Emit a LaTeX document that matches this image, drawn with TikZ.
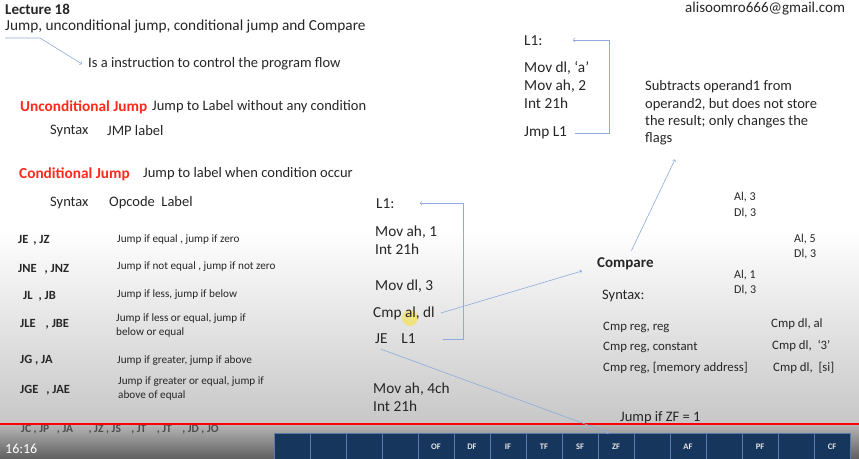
\documentclass[tikz,border=0pt]{standalone}
\usepackage{fontspec}
\setmainfont{Carlito}
\usepackage{xcolor}
\usepackage{tikz}
\usetikzlibrary{arrows,positioning,calc}
\definecolor{inkgray}{HTML}{262626}
\definecolor{headred}{HTML}{FF2A1A}
\definecolor{linkblue}{HTML}{8FAADC}
\definecolor{flagnavy}{HTML}{17365D}
\definecolor{flagedge}{HTML}{5B7BAA}

\tikzset{
  txt/.style={anchor=west, inner sep=0pt, text=inkgray, font=\fontsize{14.5}{17}\selectfont},
  boldtxt/.style={txt, font=\bfseries\fontsize{15}{17}\selectfont},
  head/.style={txt, text=headred, font=\bfseries\fontsize{15.3}{17}\selectfont},
  op/.style={txt, font=\bfseries\fontsize{12.5}{13}\selectfont},
  small/.style={txt, align=left, font=\fontsize{11.2}{14}\selectfont},
  code/.style={txt, align=left, font=\fontsize{15.3}{18.3}\selectfont},
  expl/.style={txt, align=left, font=\fontsize{14.5}{17.3}\selectfont},
  mid/.style={txt, font=\fontsize{12.8}{14}\selectfont},
  val/.style={txt, align=left, font=\fontsize{12}{16.5}\selectfont},
  link/.style={linkblue, line width=0.6pt},
  flagbox/.style={draw=flagedge, fill=flagnavy, minimum width=36pt, minimum height=28pt,
    inner sep=0pt, text=white!80!gray, font=\bfseries\fontsize{8.5}{8}\selectfont}
}

\begin{document}
\begin{tikzpicture}[x=1pt, y=-1pt]
\useasboundingbox (0,0) rectangle (859,458);
% slide background and player bar
\fill[white] (0,0) rectangle (859,230);
\shade[top color=white, bottom color=black!22] (0,230) rectangle (859,424);
\shade[top color=black!28, bottom color=black!62] (0,424) rectangle (859,458);
\node[op, text=black!70, font=\bfseries\fontsize{11.5}{13}\selectfont] (jrest) at (21,429)
  {JC , JP\ \ \ , JA\ \ \ \ \ \ , JZ , JS\ \ \ \ , JT\ \ \ \ , JT\ \ \ \ , JD , JO};
\draw[red, line width=2.5pt] (0,424) -- (859,424);
\node[txt, text=white, font=\fontsize{14}{16}\selectfont] (clock) at (5,449) {16:16};
% flag register
\foreach \lab [count=\i] in {{},{},{},{},OF,DF,IF,TF,SF,ZF,{},AF,{},PF,{},CF}
  \node[flagbox] (flag\i) at ({274+36*(\i-0.5)},447) {\lab};

% header
\node[boldtxt] (lect) at (5,9) {Lecture 18};
\node[txt, font=\fontsize{15.3}{17}\selectfont] (title) at (5,26) {Jump, unconditional jump, conditional jump and Compare};
\coordinate (tstart) at (5,38);
\node[txt] (flow) at (88,64) {Is a instruction to control the program flow};
\node[txt, font=\fontsize{15}{17}\selectfont] (mail) at (685,9) {alisoomro666@gmail.com};

% jumps
\node[head] (uncond) at (20,107) {Unconditional Jump};
\node[txt] (uncdesc) at (152,107) {Jump to Label without any condition};
\node[txt] (syn1) at (50,131) {Syntax};
\node[txt] (jmplab) at (107,131) {JMP label};
\node[head] (cond) at (19,174) {Conditional Jump};
\node[txt] (conddesc) at (143,174) {Jump to label when condition occur};
\node[txt] (syn2) at (50,203) {Syntax};
\node[txt] (opc) at (109,203) {Opcode\ \ Label};

\node[op] (je) at (18,240) {JE\hspace{5pt}, JZ};
\node[small] (jedesc) at (117,240) {Jump if equal , jump if zero};
\node[op] (jne) at (18,269) {JNE\hspace{8pt}, JNZ};
\node[small] (jnedesc) at (117,267) {Jump if not equal , jump if not zero};
\node[op] (jl) at (23,296) {JL\hspace{6pt}, JB};
\node[small] (jldesc) at (117,295) {Jump if less, jump if below};
\node[op] (jle) at (20,324) {JLE\hspace{10pt}, JBE};
\node[small] (jledesc) at (116,326) {Jump if less or equal, jump if\\below or equal};
\node[op] (jg) at (20,360) {JG , JA};
\node[small] (jgdesc) at (117,361) {Jump if greater, jump if above};
\node[op] (jge) at (20,390) {JGE\hspace{8pt}, JAE};
\node[small] (jgedesc) at (118,389) {Jump if greater or equal, jump if\\above of equal};

% loop with cmp
\node[code] (lblB) at (376,204) {L1:};
\node[code] (movah) at (375,240) {Mov ah, 1\\Int 21h};
\node[code] (movdl) at (375,286) {Mov dl, 3};
\fill[yellow!85!orange, opacity=0.45] (410,318) circle (8pt);
\node[code] (cmpal) at (373,313) {Cmp al, dl};
\node[code] (jeB) at (375,339) {JE\ \ \ \ L1};
\node[code] (exit) at (373,397) {Mov ah, 4ch\\Int 21h};
\coordinate (brB) at (463,203);

% endless loop
\node[code] (lblA) at (524,41) {L1:};
\node[code] (body) at (524,85) {Mov dl, ‘a’\\Mov ah, 2\\Int 21h};
\node[code] (jmpA) at (524,133) {Jmp L1};
\coordinate (brA) at (609,40);
\node[expl] (subs) at (645,113) {Subtracts operand1 from\\operand2, but does not store\\the result; only changes the\\flags};

% compare
\node[val] (pairA) at (734,205) {Al, 3\\Dl, 3};
\node[val, font=\fontsize{12}{15}\selectfont] (pairB) at (794,247) {Al, 5\\Dl, 3};
\node[val, font=\fontsize{12}{15}\selectfont] (pairC) at (734,283) {Al, 1\\Dl, 3};
\node[boldtxt] (cmpr) at (597,264) {Compare};
\node[txt] (syn3) at (602,296) {Syntax:};
\node[mid] (reg1) at (603,327) {Cmp reg, reg};
\node[mid] (reg2) at (603,347) {Cmp reg, constant};
\node[mid] (reg3) at (603,368) {Cmp reg, [memory address]};
\node[mid] (ex1) at (771,324) {Cmp dl, al};
\node[mid] (ex2) at (772,346) {Cmp dl,\ \ ‘3’};
\node[mid] (ex3) at (773,368) {Cmp dl,\ \ [si]};
\node[txt] (zfnote) at (620,418) {Jump if ZF = 1};

% connectors
\draw[link,->] (tstart) -- (40,38) -- ([xshift=-6pt]flow.west);
\draw[link,->] ([xshift=8pt]jmpA.east) -| (brA) -- ([xshift=30pt]lblA.east |- brA);
\draw[link,->] ([xshift=27pt]jeB.east) -| (brB) -- ([xshift=25pt]lblB.east |- brB);
\draw[link,->] ([xshift=6pt]cmpal.east) -- ([xshift=-15pt,yshift=-7pt]cmpr.west);
\draw[link,->] ([xshift=6pt,yshift=7pt]cmpr.north) -- ([xshift=30pt,yshift=-14pt]subs.south west);
\draw[link,->] ([xshift=6pt,yshift=-5pt]jeB.south west) -- ([xshift=-7pt]flag10.north);
\end{tikzpicture}
\end{document}
